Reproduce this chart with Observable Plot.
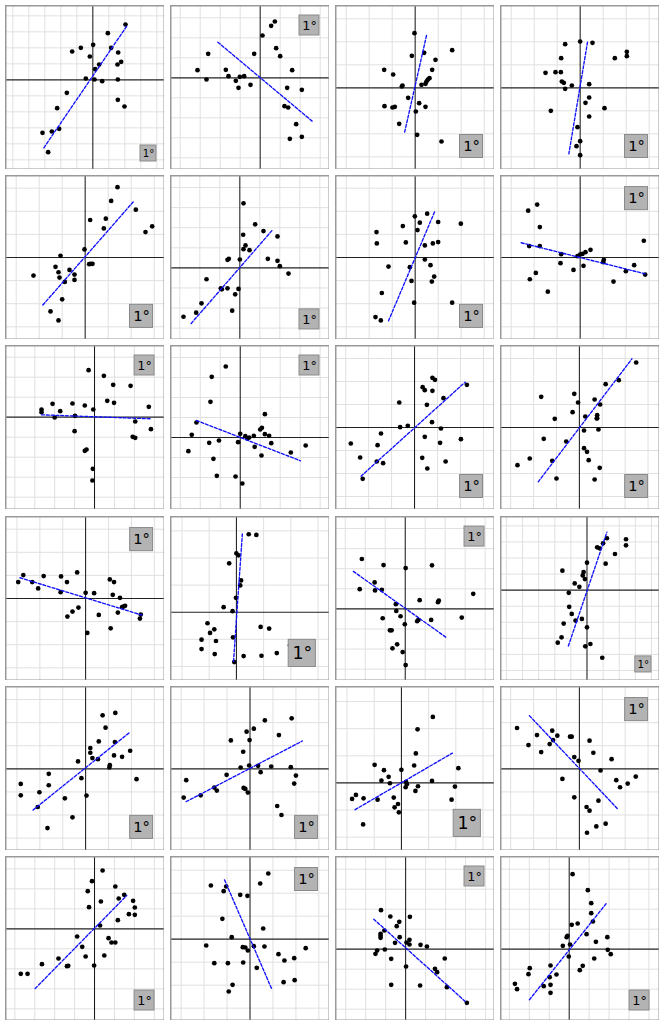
<!DOCTYPE html>
<html><head><meta charset="utf-8">
<script src="https://cdn.jsdelivr.net/npm/d3@7"></script>
<script src="https://cdn.jsdelivr.net/npm/@observablehq/plot@0.6"></script>
<style>
html,body{margin:0;padding:0;background:#fff;}
#wrap{position:relative;width:664px;height:1027px;}
.panel{position:absolute;width:159px;height:164px;}
.panel svg{display:block;}
</style></head><body><div id="wrap"></div>
<script>
// Readings per panel, in picture units relative to the crosshair (x right, y up).
// unitX / unitY = picture units per 1 degree (the size of the "1°" box and the grid step).
const p01 = [[98,166],[45,140],[1,105],[-62,85],[-36,96],[55,96],[76,82],[-9,70],[85,54],[74,46],[19,46],[7,32],[-21,4],[5,1],[28,-4],[75,1],[-78,-39],[75,-60],[95,-80],[-107,-85],[-101,-147],[-123,-155],[-151,-159],[-134,-217]];
const p02 = [[44,169],[33,156],[7,127],[-156,72],[-18,72],[48,89],[60,65],[-188,23],[-103,24],[96,23],[-161,-5],[-95,5],[-73,-9],[-61,3],[-48,5],[-65,-30],[-29,-21],[81,-30],[125,-36],[73,-85],[84,-89],[108,-139],[89,-183],[125,-177]];
const p03 = [[-2,164],[111,113],[-10,96],[27,105],[61,84],[-93,54],[-66,40],[51,54],[43,29],[38,25],[34,19],[31,12],[19,9],[-38,7],[-40,4],[-21,-30],[12,-46],[-92,-55],[-68,-59],[-61,-57],[31,-57],[2,-71],[-48,-108],[6,-141],[79,-161]];
const p04 = [[0,139],[37,135],[-45,131],[140,108],[140,95],[104,89],[-57,89],[-104,45],[-74,47],[-58,47],[-55,19],[-49,15],[-25,7],[-45,-3],[27,11],[27,-29],[16,-45],[73,-61],[-88,-69],[27,-86],[-8,-118],[0,-160],[-11,-175],[0,-202]];
const p05 = [[97,210],[78,169],[152,143],[15,112],[62,116],[56,87],[181,76],[201,93],[-2,24],[-74,5],[-89,-28],[12,-20],[17,-19],[22,-19],[-47,-37],[-80,-44],[-32,-51],[-77,-60],[-32,-67],[-61,-73],[-155,-54],[-69,-125],[-104,-161],[-80,-188]];
const p06 = [[11,193],[46,130],[71,110],[113,94],[10,99],[17,67],[11,56],[29,53],[-33,27],[-37,24],[0,25],[84,27],[113,21],[120,5],[146,-17],[-100,-34],[-57,-61],[-54,-64],[-37,-61],[-4,-63],[-14,-79],[-115,-106],[-131,-134],[-169,-146],[-23,-128]];
const p07 = [[-1,123],[36,131],[14,104],[69,106],[137,101],[-37,94],[7,82],[-116,76],[-115,42],[-28,45],[29,36],[53,42],[69,46],[29,-6],[-80,-27],[-16,-29],[46,-23],[57,-57],[-11,-70],[50,-72],[-100,-106],[-3,-135],[111,-135],[-119,-178],[-103,-188]];
const p08 = [[-129,158],[-156,140],[-121,91],[-153,34],[-121,34],[-57,10],[0,9],[7,11],[16,16],[31,23],[-8,4],[10,-25],[-20,-37],[-59,-17],[71,-7],[69,-14],[191,50],[162,-23],[137,-41],[195,-51],[100,-72],[-133,-46],[-151,-65],[-97,-102]];
const p09 = [[-14,141],[22,124],[44,97],[85,94],[30,49],[46,43],[-99,40],[-52,41],[-23,35],[-3,23],[128,31],[-125,23],[-125,15],[-81,18],[-94,-1],[-46,4],[96,-13],[133,-36],[-47,-42],[90,-59],[96,-62],[-19,-97],[-23,-101],[-4,-155],[-5,-190]];
const p10 = [[-34,213],[-67,182],[-70,107],[58,70],[-103,45],[-114,8],[0,11],[51,29],[47,24],[32,5],[21,0],[12,4],[17,-3],[58,10],[68,5],[-5,-14],[73,-17],[-73,-16],[-50,-9],[34,-28],[-122,-41],[50,-54],[119,-45],[154,-24],[-63,-64],[-55,-115],[-11,-117],[5,-138]];
const p11 = [[42,149],[48,143],[19,121],[24,112],[42,110],[-36,75],[29,68],[68,88],[123,128],[-34,1],[-16,5],[41,16],[62,-3],[-79,-18],[24,-28],[-150,-48],[-87,-53],[60,-46],[109,-35],[-128,-90],[18,-91],[-89,-102],[-74,-107],[73,-102],[30,-123],[-122,-154]];
const p12 = [[134,195],[93,142],[62,130],[49,69],[36,84],[-90,92],[-12,101],[-3,75],[-16,46],[14,33],[42,37],[42,28],[-58,26],[41,27],[11,-9],[45,-6],[-84,-34],[-31,-42],[11,-62],[18,-73],[-64,-100],[22,-98],[-117,-93],[-146,-113],[48,-121],[-54,-153],[36,-156]];
const p13 = [[-147,70],[-159,49],[-126,49],[-112,30],[-99,67],[-58,66],[-44,49],[-20,78],[-59,19],[0,17],[20,16],[57,57],[67,49],[64,11],[81,2],[89,-24],[93,-22],[86,-26],[76,-42],[130,-48],[128,-60],[31,-49],[-17,-27],[-31,-39],[-43,-54],[59,-89],[4,-103]];
const p14 = [[29,233],[47,231],[0,176],[5,170],[-17,146],[11,95],[9,80],[-1,43],[-30,15],[-9,3],[-68,-33],[-52,-51],[-62,-62],[-82,-82],[-48,-86],[-82,-110],[-51,-125],[-8,-75],[57,-44],[77,-49],[126,-99],[95,-122],[59,-130],[17,-131],[-5,-149]];
const p15 = [[-102,149],[-51,131],[63,130],[1,122],[-107,59],[-72,79],[-71,55],[-55,57],[160,45],[34,26],[79,25],[77,20],[-22,14],[-21,-6],[-11,-22],[-53,-28],[31,-33],[28,-37],[61,-33],[133,-26],[-1,-46],[-32,-64],[-36,-64],[-19,-106],[-30,-118],[-6,-129],[1,-168]];
const p16 = [[47,155],[92,152],[92,134],[38,140],[24,128],[30,125],[66,108],[44,79],[0,82],[-58,58],[-8,54],[-10,44],[-5,33],[-29,20],[-18,10],[-43,-8],[-42,-50],[-36,-71],[-55,-100],[-27,-91],[-12,-86],[0,-111],[-60,-141],[-69,-157],[-4,-168],[8,-161],[36,-202]];
const p17 = [[70,167],[40,160],[47,123],[31,82],[69,80],[11,62],[11,48],[16,32],[29,29],[105,54],[86,36],[67,40],[57,11],[56,4],[-18,22],[-10,-28],[120,-31],[2,-80],[-153,-45],[-87,-15],[-153,-79],[-87,-49],[-109,-70],[-49,-88],[-113,-114],[-31,-145],[-90,-177]];
const p18 = [[35,145],[98,151],[9,120],[-8,111],[68,101],[-45,85],[-1,86],[-16,51],[-22,4],[-2,10],[19,9],[50,7],[25,-10],[96,5],[108,-20],[104,-44],[-55,-18],[-84,-56],[-78,-65],[-116,-79],[-150,-34],[-156,-86],[-15,-57],[-11,-60],[-5,-71],[64,-111],[74,-138]];
const p19 = [[74,197],[38,160],[34,88],[30,52],[134,44],[-63,54],[-41,38],[0,39],[-30,18],[-47,7],[-27,-1],[11,3],[13,-4],[72,6],[10,-13],[39,-10],[33,-24],[126,-11],[-116,-48],[-107,-36],[-89,-46],[-56,-50],[-18,-44],[-8,-63],[-16,-73],[-6,-88],[118,-50],[-90,-124]];
const p20 = [[-147,122],[-120,71],[-100,101],[-90,50],[-70,74],[-64,114],[-62,86],[-52,99],[-22,96],[-18,96],[24,84],[33,48],[76,29],[-12,35],[-2,24],[50,-5],[-40,-30],[87,-34],[96,-55],[114,-44],[133,-23],[-12,-85],[45,-95],[17,-114],[24,-125],[40,-172],[62,-164],[18,-191]];
const p21 = [[19,175],[-6,143],[-16,113],[49,127],[15,82],[-13,65],[57,91],[70,102],[91,84],[95,64],[81,44],[95,42],[55,26],[13,10],[-41,-23],[-29,-54],[33,-28],[40,-41],[49,-41],[-21,-83],[23,-80],[-1,-110],[-85,-89],[-62,-111],[-65,-112],[-124,-106],[-174,-135],[-158,-135]];
const p22 = [[43,197],[24,167],[-92,161],[-62,144],[-56,158],[-23,133],[-6,130],[-65,61],[31,32],[-43,6],[-103,-19],[-17,-24],[-11,-25],[-5,-34],[9,-21],[34,-22],[67,-45],[81,-64],[104,-57],[131,-27],[-84,-72],[-52,-72],[-16,-70],[16,-86],[79,-129],[105,-123],[-41,-137],[-50,-157]];
const p23 = [[-58,117],[-36,98],[10,97],[-15,82],[-21,69],[-59,46],[-59,40],[-50,56],[-14,36],[-25,19],[-59,34],[2,20],[9,28],[9,14],[35,13],[50,8],[-49,-1],[-67,-4],[-71,-14],[-34,-29],[1,-52],[92,-28],[69,-59],[74,-69],[97,-114],[34,-109],[-34,-107],[144,-161]];
const p24 = [[8,225],[44,177],[52,138],[52,108],[56,83],[41,45],[20,77],[6,73],[-4,40],[-6,36],[63,22],[90,36],[2,14],[-15,10],[-1,-22],[59,-28],[32,-50],[25,-63],[91,-2],[98,-15],[-44,-49],[-30,-76],[-46,-84],[-93,-57],[-96,-75],[-60,-111],[-44,-107],[-44,-131],[-128,-104],[-123,-120]];

// fitted (dashed) line end points [x1, y1, x2, y2]
const fitLines = [
  [-147,-204,101,160],[-127,107,156,-130],[34,157,-32,-135],[22,137,-34,-198],
  [-127,-142,144,166],[-146,-166,97,112],[58,136,-82,-194],[-177,44,196,-49],
  [-125,7,135,-5],[-103,51,142,-70],[-126,-146,119,136],[-97,-163,124,206],
  [-155,62,134,-50],[14,234,-7,-152],[-122,112,96,-85],[-44,-167,47,173],
  [-124,-123,104,109],[-150,-98,123,83],[-109,-80,120,89],[-118,159,92,-122],
  [-140,-179,76,100],[-60,178,52,-152],[-75,90,143,-160],[-94,-152,88,138]
];
const xDomains = [
  [-262,215],[-269,208],[-239,238],[-239,238],
  [-239,238],[-208,269],[-239,238],[-239,238],
  [-210,165],[-164,210],[-186,188],[-186,189],
  [-189,186],[-155,219],[-164,210],[-204,171],
  [-189,186],[-187,187],[-155,219],[-186,189],
  [-210,165],[-187,187],[-165,209],[-162,213]
];
const yDomains = [
  [-269,223],[-275,217],[-245,247],[-245,247],
  [-245,245],[-214,276],[-245,245],[-245,245],
  [-277,215],[-216,276],[-246,246],[-246,246],
  [-245,245],[-204,286],[-214,276],[-270,220],
  [-244,246],[-244,246],[-202,288],[-244,246],
  [-275,217],[-244,248],[-214,278],[-214,278]
];
const unitX = [48,60,69,69, 69,60,69,69, 47,47,54,54, 54,64,47,38, 54,54,64,54, 47,54,47,47];
const unitY = [48,60,69,69, 69,60,69,69, 60,60,69,69, 69,81,60,48, 69,69,81,69, 60,69,60,60];
const badgeCorner = ["br","tr","br","br", "br","br","br","tr", "tr","tr","br","br", "tr","br","tr","br", "br","br","br","tr", "br","tr","tr","br"];
const badgeLabel = "1°";

const panels = [p01,p02,p03,p04,p05,p06,p07,p08,p09,p10,p11,p12,p13,p14,p15,p16,p17,p18,p19,p20,p21,p22,p23,p24];
const W = 159, H = 164;
const wrap = document.getElementById("wrap");

panels.forEach((pts, i) => {
  const gx = unitX[i], gy = unitY[i];
  const [x0, x1] = xDomains[i].map(v => v / gx);
  const [y0, y1] = yDomains[i].map(v => v / gy);
  const data = pts.map(([x, y]) => ({x: x / gx, y: y / gy}));
  const L = fitLines[i];
  const line = [{x: L[0] / gx, y: L[1] / gy}, {x: L[2] / gx, y: L[3] / gy}];
  const gridXs = d3.range(Math.ceil(x0), Math.floor(x1) + 1).filter(v => v !== 0);
  const gridYs = d3.range(Math.ceil(y0), Math.floor(y1) + 1).filter(v => v !== 0);
  const top = badgeCorner[i] === "tr";
  const badge = [{
    x1: x1 - 1.5, x2: x1 - 0.5,
    y1: top ? y1 - 1.5 : y0 + 0.5, y2: top ? y1 - 0.5 : y0 + 1.5,
    label: badgeLabel
  }];
  const pxPerDeg = W / (x1 - x0);
  const chart = Plot.plot({
    width: W, height: H, margin: 0,
    style: {background: "white", overflow: "hidden"},
    x: {domain: [x0, x1], axis: null},
    y: {domain: [y0, y1], axis: null},
    marks: [
      Plot.ruleX(gridXs, {stroke: "#e0e0e0", strokeWidth: 1}),
      Plot.ruleY(gridYs, {stroke: "#e0e0e0", strokeWidth: 1}),
      Plot.ruleX([0], {stroke: "#111", strokeWidth: 1}),
      Plot.ruleY([0], {stroke: "#222", strokeWidth: 1.1}),
      Plot.dot(data, {x: "x", y: "y", r: 2.35, fill: "#000", stroke: "none"}),
      Plot.line(line, {x: "x", y: "y", stroke: "#1010ff", strokeWidth: 1.35, strokeDasharray: "3,1.8"}),
      Plot.rect(badge, {x1: "x1", x2: "x2", y1: "y1", y2: "y2", fill: "#b3b3b3", stroke: "#8a8a8a", strokeWidth: 1}),
      Plot.text(badge, {x: d => (d.x1 + d.x2) / 2, y: d => (d.y1 + d.y2) / 2, text: "label",
        fontSize: 0.64 * pxPerDeg, fill: "#000", fontFamily: "DejaVu Sans"}),
      Plot.frame({stroke: "#999", strokeWidth: 2})
    ]
  });
  const div = document.createElement("div");
  div.className = "panel";
  const r = Math.floor(i / 4), c = i % 4;
  div.style.left = (5 + c * 165) + "px";
  div.style.top = (5 + r * 170.2) + "px";
  div.appendChild(chart);
  wrap.appendChild(div);
});
</script></body></html>
